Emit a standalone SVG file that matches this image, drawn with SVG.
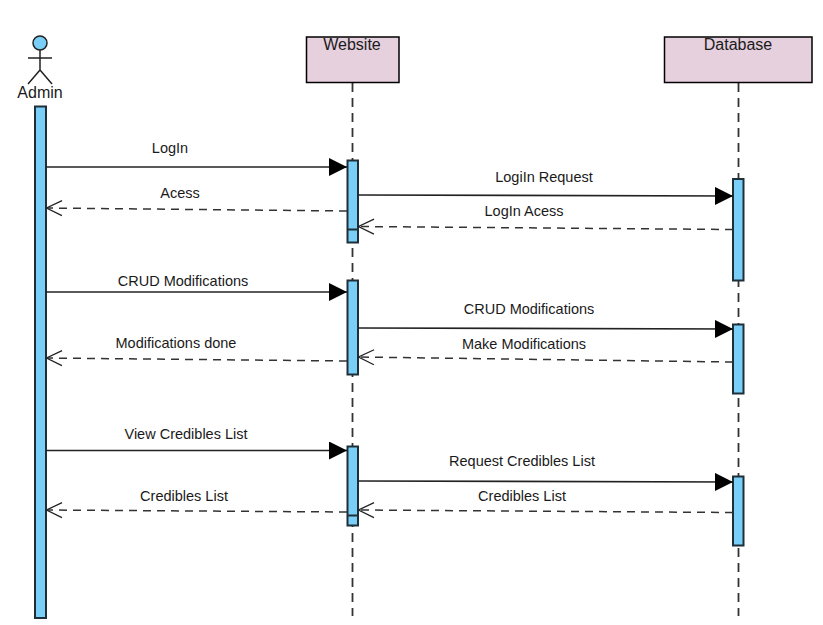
<svg xmlns="http://www.w3.org/2000/svg" width="823" height="625" viewBox="0 0 823 625">
<style>
text{font-family:"Liberation Sans",Arial,sans-serif;font-size:14.500px;fill:#1a1a1a;text-anchor:middle}
text.big{font-size:16px}
.box{fill:#e6d0de;stroke:#000;stroke-width:1.5}
.act{fill:#79cff7;stroke:#1f2f38;stroke-width:2}
.life{stroke:#333;stroke-width:1.8;stroke-dasharray:9 6;fill:none}
.msg{stroke:#222;stroke-width:1.6;fill:none;marker-end:url(#solid)}
.ret{stroke:#333;stroke-width:1.5;fill:none;stroke-dasharray:8 6;marker-end:url(#open)}
.st{stroke:#222;stroke-width:1.5;fill:none}
</style>
<defs>
<marker id="solid" markerUnits="userSpaceOnUse" markerWidth="19" markerHeight="19" refX="18" refY="9" orient="auto"><path d="M0,0 L18,9 L0,18 Z" fill="#000"/></marker>
<marker id="open" markerUnits="userSpaceOnUse" markerWidth="18" markerHeight="18" refX="17" refY="8.5" orient="auto"><path d="M1,1 L16.5,8.5 L1,16" fill="none" stroke="#222" stroke-width="1.3"/></marker>
</defs>
<rect width="823" height="625" fill="#fff"/>
<g id="lifelines">
<path class="life" d="M352.500 83V616"/>
<path class="life" d="M738.500 83V616"/>
</g>
<g id="admin">
<circle cx="40" cy="43" r="7" fill="#79cff7" stroke="#222" stroke-width="1.500"/>
<path class="st" d="M40 50V70M28 58H52M40 70L28 84M40 70L52 84"/>
<text class="big" x="40" y="98">Admin</text>
<rect class="act" x="35" y="106.500" width="11" height="511.500"/>
</g>
<g id="website">
<rect class="box" x="306.500" y="37" width="92.500" height="45.500"/>
<text class="big" x="352" y="50">Website</text>
<rect class="act" x="347.500" y="160.500" width="10.500" height="82"/>
<path d="M347.500 229.500H358" stroke="#1f2f38" stroke-width="2"/>
<rect class="act" x="347.500" y="280.500" width="10.500" height="94"/>
<rect class="act" x="347.500" y="446.500" width="10.500" height="79"/>
<path d="M347.500 515.500H358" stroke="#1f2f38" stroke-width="2"/>
</g>
<g id="database">
<rect class="box" x="664.500" y="37" width="147.500" height="45.500"/>
<text class="big" x="738" y="50">Database</text>
<rect class="act" x="733" y="179" width="10.500" height="101.500"/>
<rect class="act" x="733" y="324.500" width="10.500" height="69"/>
<rect class="act" x="733" y="476.500" width="10.500" height="69"/>
</g>
<g id="connectors">
<path class="msg" d="M46 167H347"/>
<path class="ret" d="M347 211L46 208"/>
<path class="msg" d="M358 195L733 196"/>
<path class="ret" d="M733 229.500L358 226.500"/>
<path class="msg" d="M46 292H347"/>
<path class="ret" d="M347 361L46 358"/>
<path class="msg" d="M358 328L733 329"/>
<path class="ret" d="M733 362L358 357"/>
<path class="msg" d="M46 450.500H347"/>
<path class="ret" d="M347 512L46 510"/>
<path class="msg" d="M358 481L733 482"/>
<path class="ret" d="M733 512.500L358 510"/>
</g>
<g id="labels">
<text x="170" y="153">LogIn</text>
<text x="180" y="198">Acess</text>
<text x="544" y="182">LogiIn Request</text>
<text x="524" y="216">LogIn Acess</text>
<text x="183" y="286">CRUD Modifications</text>
<text x="176" y="348">Modifications done</text>
<text x="529" y="314">CRUD Modifications</text>
<text x="524" y="349">Make Modifications</text>
<text x="186" y="439">View Credibles List</text>
<text x="184" y="501">Credibles List</text>
<text x="522" y="466">Request Credibles List</text>
<text x="522" y="501">Credibles List</text>
</g>
</svg>
